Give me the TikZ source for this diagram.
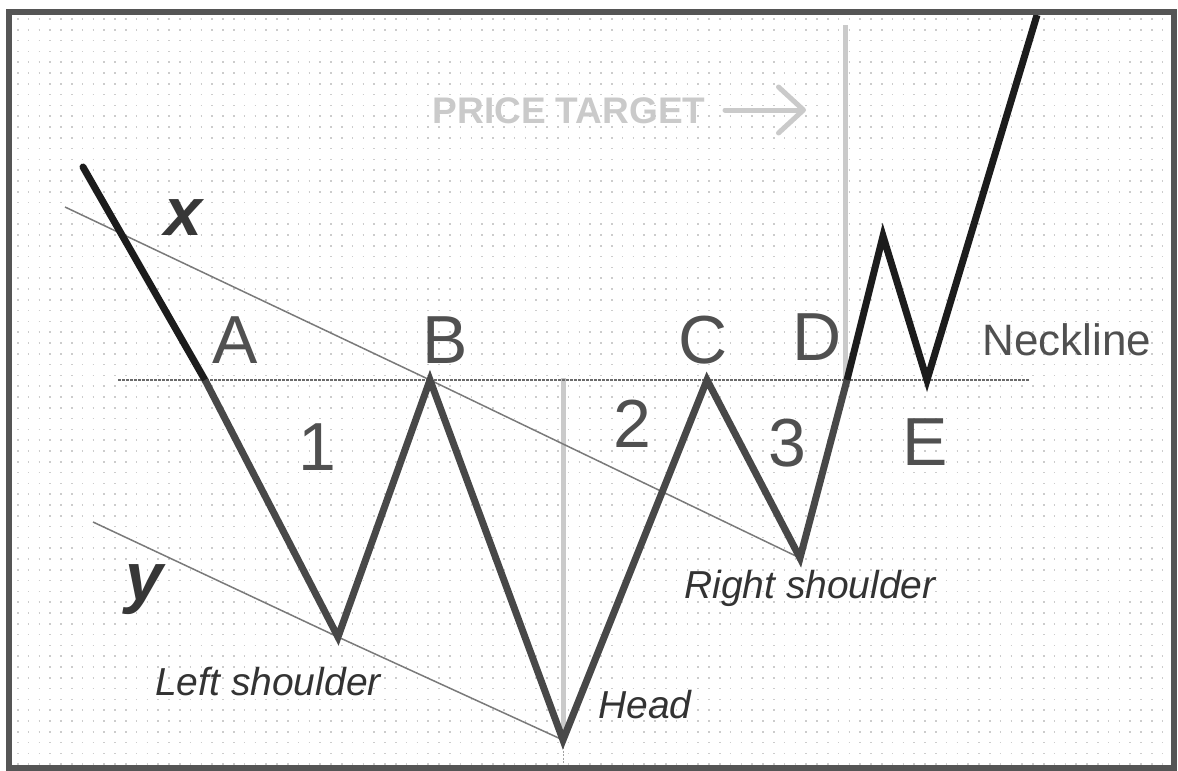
\documentclass[tikz,border=0pt]{standalone}
\usepackage{fontspec}
\setmainfont{Liberation Sans}
\usetikzlibrary{arrows.meta}
\definecolor{framec}{HTML}{555555}
\definecolor{dotc}{HTML}{CCCCCC}
\definecolor{lightc}{HTML}{CACACA}
\definecolor{trendc}{HTML}{7A7A7A}
\definecolor{neckc}{HTML}{6A6A6A}
\definecolor{upc}{HTML}{1C1C1C}
\definecolor{downc}{HTML}{484848}
\definecolor{lettc}{HTML}{505050}
\begin{document}
\begin{tikzpicture}[x=1pt,y=-1pt,
  bigl/.style={font=\fontsize{68}{80}\selectfont, text=lettc, anchor=base, inner sep=0pt},
  varl/.style={font=\fontsize{68}{80}\selectfont\bfseries\itshape, text=upc!88!white, anchor=base, inner sep=0pt},
  smalll/.style={font=\fontsize{39}{46}\selectfont\itshape, text=upc!90!white, anchor=base, inner sep=0pt},
  neckl/.style={font=\fontsize{44}{52}\selectfont, text=lettc, anchor=base, inner sep=0pt},
  pricel/.style={font=\fontsize{37}{44}\selectfont\bfseries, text=lightc, anchor=base, inner sep=0pt},
  upline/.style={draw=upc, line width=7pt, line join=miter},
  downline/.style={draw=downc, line width=7pt, line join=miter},
  trend/.style={draw=trendc, line width=1.5pt},
  neck/.style={draw=neckc, line width=1.5pt, dash pattern=on 3pt off 1pt},
  guide/.style={draw=lightc, line width=5pt}]
\useasboundingbox (0,0) rectangle (1178,771);
\fill[white] (0,0) rectangle (1178,771);
% dotted background
\foreach \r in {0,...,69} {
  \draw[dotc, line width=1.6pt, dash pattern=on 1.6pt off 9.2pt] (17,{19+\r*10.8}) -- (1168,{19+\r*10.8});
}
% key points
\coordinate (start) at (83,167);
\coordinate (a) at (205,380);
\coordinate (ls) at (338,637);
\coordinate (b) at (430,380);
\coordinate (head) at (563,740);
\coordinate (c) at (707,380);
\coordinate (rs) at (800,558);
\coordinate (d) at (847,380);
\coordinate (peak) at (883,236);
\coordinate (e) at (927,380);
\coordinate (top) at (1037,15);
% guide verticals
\coordinate (hv) at (563,378);
\coordinate (hb) at (563,768);
\coordinate (dv) at (845,25);
\coordinate (dn) at (845,380);
\draw[guide] (hv) -- (head);
\draw[draw=trendc!70!white, line width=1pt, dash pattern=on 2pt off 1.5pt] (head) -- (hb);
\draw[guide] (dv) -- (dn);
% trend lines
\coordinate (x0) at (65,207);
\coordinate (y0) at (93,522);
\draw[trend] (x0) -- (b) -- (rs);
\draw[trend] (y0) -- (ls) -- (head);
% neckline
\coordinate (n0) at (118,380);
\coordinate (n1) at (1030,380);
\draw[neck] (n0) -- (n1);
% price path
\draw[upline, line cap=round] (start) -- (a);
\draw[downline] (a) -- (ls) -- (b) -- (head) -- (c) -- (rs) -- (d);
\draw[upline] (d) -- (peak) -- (e) -- (top);
% labels
\node[bigl] (la) at (235,363) {A};
\node[bigl] (lb) at (445,363) {B};
\node[bigl] (lc) at (703,363) {C};
\node[bigl] (ld) at (817,360) {D};
\node[bigl] (le) at (925,465) {E};
\node[bigl] (l1) at (317,470) {1};
\node[bigl] (l2) at (632,447) {2};
\node[bigl] (l3) at (787,466) {3};
\node[varl] (lx) at (183,235) {x};
\node[varl] (ly) at (144,600) {y};
\node[neckl] (lneck) at (1067,355) {Neckline};
\node[smalll] (lhead) at (645,718) {Head};
\node[smalll] (lls) at (268,695) {Left shoulder};
\node[smalll] (lrs) at (810,598) {Right shoulder};
\node[pricel] (lpt) at (569,123) {PRICE TARGET};
\coordinate (pa0) at (725,110);
\coordinate (pa1) at (806,110);
\draw[lightc, line width=5pt, line cap=round, -{Straight Barb[length=25pt, width=46pt, round]}] (pa0) -- (pa1);
% frame
\draw[framec, line width=6pt] (9,12) rectangle (1174,768);
\end{tikzpicture}
\end{document}
